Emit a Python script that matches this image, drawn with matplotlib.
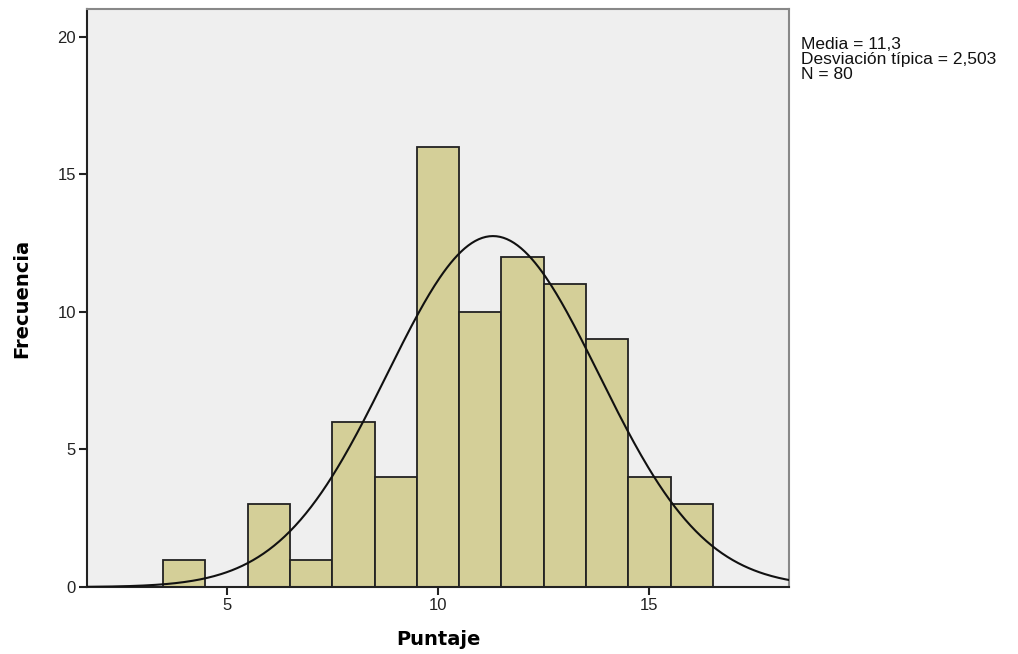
import numpy as np
import matplotlib
matplotlib.use("Agg")
import matplotlib.pyplot as plt

# bin centres (width 1) and counts
puntaje = [4, 5, 6, 7, 8, 9, 10, 11, 12, 13, 14, 15, 16]
frecuencia = [1, 0, 3, 1, 6, 4, 16, 10, 12, 11, 9, 4, 3]

media = 11.3
desv = 2.503
n_total = 80

fig = plt.figure(figsize=(10.18, 6.54), dpi=100)
ax = fig.add_axes([0.0855, 0.1024, 0.6895, 0.8838])
ax.set_facecolor("#efefef")

ax.bar(puntaje, frecuencia, width=1.0, color="#d4cf98",
       edgecolor="#222222", linewidth=1.3, zorder=2)

# normal curve scaled to counts (bin width 1)
xs = np.linspace(1.7, 18.35, 400)
ys = n_total / (desv * np.sqrt(2 * np.pi)) * np.exp(-0.5 * ((xs - media) / desv) ** 2)
ax.plot(xs, ys, color="#111111", linewidth=1.5, zorder=3)

ax.set_xlim(1.7, 18.3)
ax.set_ylim(0, 21)
ax.set_xticks([5, 10, 15])
ax.set_yticks([0, 5, 10, 15, 20])

for side in ["left", "bottom"]:
    ax.spines[side].set_color("#222222")
    ax.spines[side].set_linewidth(1.5)
for side in ["top", "right"]:
    ax.spines[side].set_color("#888888")
    ax.spines[side].set_linewidth(1.5)

ax.tick_params(axis="both", direction="out", length=6, width=1.5,
               color="#222222", labelsize=12, labelcolor="#222222", pad=2)
for lbl in ax.get_xticklabels() + ax.get_yticklabels():
    lbl.set_fontfamily("Liberation Sans")

ax.set_xlabel("Puntaje", fontsize=14, fontweight="bold", family="DejaVu Sans", labelpad=12)
ax.set_ylabel("Frecuencia", fontsize=14, fontweight="bold", family="DejaVu Sans", labelpad=19)

fig.text(0.787, 0.943, f"Media = {media:.1f}".replace(".", ",") + "\n"
         + f"Desviación típica = {desv:.3f}".replace(".", ",") + "\n"
         + f"N = {n_total}",
         fontsize=12.5, family="Liberation Sans", color="#111111",
         va="top", ha="left", linespacing=1.0)

fig.savefig("out.png", dpi=100)
